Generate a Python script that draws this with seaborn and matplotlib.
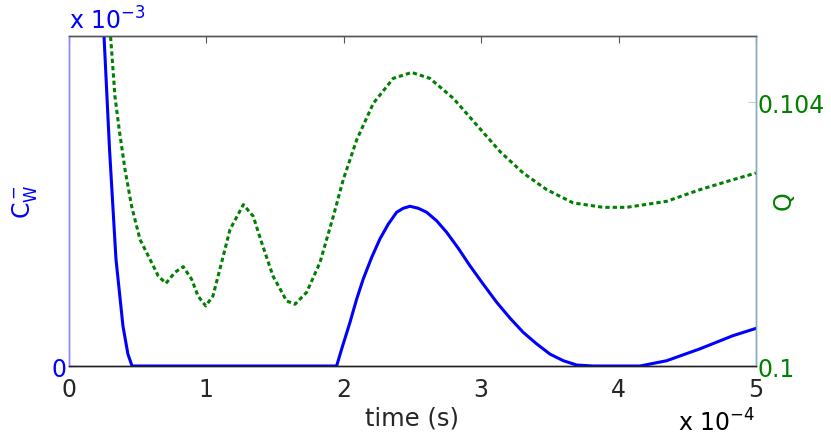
import matplotlib
matplotlib.use("Agg")
import matplotlib.pyplot as plt
import seaborn as sns
import pandas as pd

# time in units of 1e-4 s, C_W^- in units of 1e-3
t_cw = [0.15, 0.255, 0.295, 0.342, 0.393, 0.429, 0.459, 1.0, 1.27, 1.948,
        1.985, 2.045, 2.094, 2.142, 2.203, 2.263, 2.324, 2.385, 2.433, 2.482,
        2.542, 2.603, 2.676, 2.749, 2.833, 2.918, 3.015, 3.113, 3.210, 3.306,
        3.404, 3.501, 3.598, 3.695, 3.816, 4.156, 4.350, 4.592, 4.833, 5.0]
cw = [1.75, 1.0, 0.658, 0.324, 0.121, 0.036, 0.0, 0.0, 0.0, 0.0,
      0.052, 0.132, 0.203, 0.264, 0.329, 0.385, 0.430, 0.466, 0.478, 0.484,
      0.478, 0.466, 0.440, 0.405, 0.357, 0.304, 0.248, 0.193, 0.145, 0.102,
      0.067, 0.036, 0.016, 0.003, 0.0, 0.0, 0.016, 0.052, 0.092, 0.114]

t_q = [0.27, 0.303, 0.335, 0.366, 0.408, 0.456, 0.517, 0.590, 0.650, 0.706,
       0.771, 0.832, 0.893, 0.939, 0.995, 1.048, 1.111, 1.172, 1.269, 1.341,
       1.402, 1.485, 1.584, 1.645, 1.730, 1.827, 1.924, 1.996, 2.094, 2.215,
       2.360, 2.494, 2.627, 2.797, 2.967, 3.137, 3.306, 3.477, 3.670, 3.889,
       4.059, 4.350, 4.592, 4.833, 5.0]
q = [0.10554, 0.104986, 0.104080, 0.103577, 0.102974, 0.102420, 0.101917,
     0.101615, 0.101363, 0.101253, 0.101419, 0.101505, 0.101313, 0.101061,
     0.100910, 0.101061, 0.101570, 0.102068, 0.102445, 0.102269, 0.101872,
     0.101363, 0.100986, 0.100936, 0.101117, 0.101570, 0.102269, 0.102823,
     0.103426, 0.103980, 0.104358, 0.104448, 0.104358, 0.104056, 0.103653,
     0.103250, 0.102924, 0.102672, 0.102471, 0.102404, 0.102404, 0.102495,
     0.102672, 0.102823, 0.102924]

x_ticks = [0, 1, 2, 3, 4, 5]
q_ticks = [0.1, 0.104]
q_labels = ["0.1", "0.104"]

sns.set_style("white")
plt.rcParams["font.family"] = ["DejaVu Sans"]
plt.rcParams["mathtext.fontset"] = "dejavusans"

blue = (0, 0, 1)
green = (0, 0.5, 0)

fig = plt.figure(figsize=(8.31, 4.39), dpi=100)
ax = fig.add_axes([0.083, 0.164, 0.8267, 0.7517])
ax2 = ax.twinx()

df_cw = pd.DataFrame({"t": t_cw, "cw": cw})
df_q = pd.DataFrame({"t": t_q, "q": q})
sns.lineplot(data=df_cw, x="t", y="cw", ax=ax, color=blue, lw=2.2, zorder=3)
sns.lineplot(data=df_q, x="t", y="q", ax=ax2, color=green, lw=2.2,
             linestyle=(0, (1.4, 1.0)))

ax.set_xlim(0, 5)
ax.set_ylim(0, 1.0)
ax2.set_ylim(0.1, 0.1050)

ax.set_xticks(x_ticks)
ax.set_xticklabels([str(v) for v in x_ticks], fontsize=17)
ax.set_yticks([0])
ax.set_yticklabels(["0"], fontsize=17, color=blue)
ax2.set_yticks(q_ticks)
ax2.set_yticklabels(q_labels, fontsize=17, color=green)

ax.tick_params(axis="x", direction="in", length=5, color="#555555", top=True,
               pad=8)
ax.tick_params(axis="y", direction="in", length=5, color=blue, pad=2)
ax2.tick_params(axis="y", direction="in", length=6, color="#aaddaa", pad=1)

ax.set_xlabel("time (s)", fontsize=17.5, labelpad=3)
ax.set_ylabel("")
ax2.set_ylabel("")
fig.text(0.030, 0.54, r"$\mathregular{C_W^-}$", color=blue, fontsize=17,
         rotation=90, ha="center", va="center")
fig.text(0.943, 0.542, "Q", color=green, fontsize=17, rotation=90,
         ha="center", va="center")

fig.text(0.083, 0.922, r"x $\mathregular{10^{-3}}$", color=blue, fontsize=17,
         ha="left", va="bottom")
fig.text(0.909, 0.006, r"x $\mathregular{10^{-4}}$", color="black", fontsize=17,
         ha="right", va="bottom")

for a in (ax, ax2):
    a.spines["top"].set_color("#555555")
    a.spines["bottom"].set_color("#222222")
    a.spines["left"].set_color("#8888ff")
    a.spines["right"].set_color("#88aabb")
    for s in a.spines.values():
        s.set_linewidth(1.0)

fig.savefig("out.png", dpi=100)
